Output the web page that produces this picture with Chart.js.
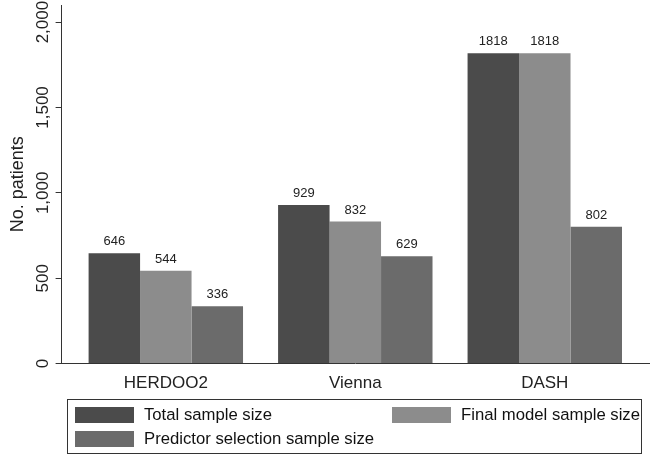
<!DOCTYPE html>
<html>
<head>
<meta charset="utf-8">
<script src="https://cdn.jsdelivr.net/npm/chart.js@4"></script>
<style>
  body { margin: 0; background: #fff; }
  #wrap { position: relative; width: 650px; height: 457px; }
  #legend {
    position: absolute; left: 67px; top: 399px; width: 575px; height: 55px;
    border: 1px solid #333; box-sizing: border-box;
    font: 16.7px "Liberation Sans", Arial, sans-serif; color: #111;
  }
  .item { position: absolute; display: flex; align-items: center; white-space: nowrap; height: 16px; }
  .sw { width: 59px; height: 16px; margin-right: 10px; }
</style>
</head>
<body>
<div id="wrap">
  <canvas id="chart" width="650" height="457"></canvas>
  <div id="legend"></div>
</div>
<script>
// data
const categories = ["HERDOO2", "Vienna", "DASH"];
const seriesNames = ["Total sample size", "Final model sample size", "Predictor selection sample size"];
const totalSize = [646, 929, 1818];
const finalModelSize = [544, 832, 1818];
const predictorSize = [336, 629, 802];
const yTicks = [0, 500, 1000, 1500, 2000];

const colors = ["#4b4b4b", "#8c8c8c", "#6b6b6b"];
const font = '"Liberation Sans", Arial, sans-serif';

function toPoints(arr) {
  return arr.map((v, i) => ({ x: i, y: v }));
}

// y tick labels are rotated in the original, chart.js can't do that on a vertical axis
const yLabels = {
  id: "yLabels",
  afterDraw(chart) {
    const s = chart.scales.y, ctx = chart.ctx;
    ctx.save();
    ctx.font = "17px " + font;
    ctx.fillStyle = "#222";
    ctx.textAlign = "center";
    ctx.textBaseline = "middle";
    s.ticks.forEach(t => {
      const y = s.getPixelForValue(t.value);
      ctx.save();
      ctx.translate(43, y);
      ctx.rotate(-Math.PI / 2);
      ctx.fillText(t.label, 0, 0);
      ctx.restore();
    });
    ctx.restore();
  }
};

// numbers on top of the bars
const barValues = {
  id: "barValues",
  afterDatasetsDraw(chart) {
    const ctx = chart.ctx;
    ctx.save();
    ctx.font = "13px " + font;
    ctx.fillStyle = "#222";
    ctx.textAlign = "center";
    ctx.textBaseline = "alphabetic";
    chart.data.datasets.forEach((ds, i) => {
      chart.getDatasetMeta(i).data.forEach((bar, j) => {
        ctx.fillText(ds.data[j].y, bar.x, bar.y - 8);
      });
    });
    ctx.restore();
  }
};

const chart = new Chart(document.getElementById("chart"), {
  type: "bar",
  data: {
    datasets: [
      { label: seriesNames[0], data: toPoints(totalSize), backgroundColor: colors[0] },
      { label: seriesNames[1], data: toPoints(finalModelSize), backgroundColor: colors[1] },
      { label: seriesNames[2], data: toPoints(predictorSize), backgroundColor: colors[2] }
    ]
  },
  options: {
    responsive: false,
    animation: false,
    locale: "en-US",
    categoryPercentage: 0.815,
    barPercentage: 1,
    layout: { padding: { top: 5, right: 1, bottom: 53, left: 0 } },
    plugins: { legend: { display: false }, tooltip: { enabled: false } },
    scales: {
      x: {
        type: "linear",
        min: -0.55,
        max: 2.55,
        offset: false,
        afterBuildTicks: s => { s.ticks = categories.map((c, i) => ({ value: i })); },
        ticks: {
          callback: v => categories[v],
          font: { family: font, size: 17 },
          color: "#222",
          padding: 10,
          maxRotation: 0,
          autoSkip: false
        },
        grid: { display: false, drawTicks: false },
        border: { display: true, color: "#333", width: 1 }
      },
      y: {
        min: 0,
        max: 2100,
        afterBuildTicks: s => { s.ticks = yTicks.map(v => ({ value: v })); },
        ticks: { display: false },
        grid: { drawOnChartArea: false, drawTicks: true, tickLength: 6, color: "#333" },
        border: { display: true, color: "#333", width: 1 },
        title: {
          display: true,
          text: "No. patients",
          font: { family: font, size: 18 },
          color: "#222",
          padding: { top: 7, bottom: 27 }
        }
      }
    }
  },
  plugins: [yLabels, barValues]
});

// legend laid out like the original: two columns, third item wraps
const legendPos = [[7, 7], [324, 7], [7, 31]];
const legend = document.getElementById("legend");
chart.data.datasets.forEach((ds, i) => {
  const item = document.createElement("div");
  item.className = "item";
  item.style.left = legendPos[i][0] + "px";
  item.style.top = legendPos[i][1] + "px";
  item.innerHTML = '<span class="sw" style="background:' + ds.backgroundColor + '"></span><span>' + ds.label + "</span>";
  legend.appendChild(item);
});
</script>
</body>
</html>
